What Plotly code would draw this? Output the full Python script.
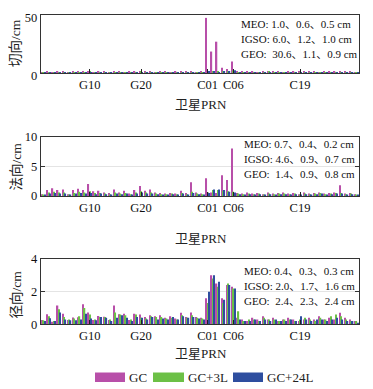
import plotly.graph_objects as go
from plotly.subplots import make_subplots

# the page body adds an 8 px offset; the figure is sized so content lands on reference pixels
OFF = 8
W, H = 373 - OFF, 389 - OFF

gps = [f"G{i:02d}" for i in range(1, 33)]
bds = [f"C{i:02d}" for i in range(1, 31)]
prn = gps + bds
tick_labels = ["G10", "G20", "C01", "C06", "C19"]
series_names = ["GC", "GC+3L", "GC+24L"]
colors = ["#B84FA9", "#6CC046", "#2E4E9F"]

# 切向 (along-track)
along_gc = [0.8, 1.2, 0.6, 1.0, 1.4, 0.7, 1.1, 0.9, 1.3, 1.5, 0.8, 1.0, 1.2, 0.6, 0.9, 1.1,
            0.7, 1.3, 1.0, 1.6, 0.9, 1.2, 0.8, 1.0, 1.1, 0.7, 1.4, 0.9, 1.0, 1.2, 0.8, 1.1,
            47.5, 18.5, 27.0, 4.5, 3.5, 10.0, 1.4, 1.2, 0.9, 1.3, 0.8, 1.0, 1.5, 0.9, 1.1,
            0.8, 1.0, 1.2, 1.3, 1.0, 0.9, 1.1, 0.8, 1.2, 1.0, 1.3, 0.9, 1.1, 1.0, 0.8]
along_3l = [0.5, 0.7, 0.4, 0.6, 0.8, 0.5, 0.6, 0.5, 0.7, 0.9, 0.5, 0.6, 0.7, 0.4, 0.5, 0.6,
            0.4, 0.7, 0.6, 0.9, 0.5, 0.7, 0.5, 0.6, 0.6, 0.4, 0.8, 0.5, 0.6, 0.7, 0.5, 0.6,
            1.2, 1.0, 0.9, 1.8, 1.5, 2.2, 0.8, 0.7, 0.6, 0.8, 0.5, 0.6, 0.9, 0.5, 0.6,
            0.5, 0.6, 0.7, 0.8, 0.6, 0.5, 0.7, 0.5, 0.7, 0.6, 0.8, 0.5, 0.7, 0.6, 0.5]
along_24l = [0.4, 0.6, 0.3, 0.5, 0.7, 0.4, 0.5, 0.4, 0.6, 0.8, 0.4, 0.5, 0.6, 0.3, 0.4, 0.5,
             0.3, 0.6, 0.5, 0.8, 0.4, 0.6, 0.4, 0.5, 0.5, 0.3, 0.7, 0.4, 0.5, 0.6, 0.4, 0.5,
             1.0, 0.9, 0.8, 1.6, 1.4, 2.4, 0.7, 0.6, 0.5, 0.7, 0.4, 0.5, 0.8, 0.4, 0.5,
             0.4, 0.5, 0.6, 0.7, 0.5, 0.4, 0.6, 0.4, 0.6, 0.5, 0.7, 0.4, 0.6, 0.5, 0.4]

# 法向 (cross-track)
cross_gc = [0.3, 1.0, 1.3, 1.0, 1.1, 0.3, 1.0, 1.2, 1.0, 2.0, 0.8, 0.9, 0.6, 0.5, 1.1, 0.6,
            0.9, 0.4, 1.0, 1.7, 0.9, 1.1, 0.6, 0.5, 0.4, 0.5, 0.4, 0.9, 0.5, 2.3, 0.6, 0.4,
            3.0, 0.6, 0.5, 3.5, 2.7, 8.0, 0.5, 0.4, 0.6, 0.4, 0.5, 0.3, 0.6, 0.4, 0.5,
            0.6, 0.4, 0.5, 0.3, 0.6, 0.4, 0.5, 0.6, 0.4, 0.5, 0.6, 1.8, 0.4, 0.5, 0.3]
cross_3l = [0.2, 0.6, 0.7, 0.6, 0.6, 0.2, 0.5, 0.7, 0.6, 0.8, 0.5, 0.5, 0.4, 0.3, 0.6, 0.4,
            0.5, 0.3, 0.6, 0.8, 0.6, 0.6, 0.4, 0.3, 0.3, 0.4, 0.3, 0.5, 0.3, 0.7, 0.4, 0.3,
            0.6, 1.0, 1.0, 0.9, 0.8, 0.7, 0.4, 0.3, 0.4, 0.3, 0.4, 0.2, 0.4, 0.3, 0.4,
            0.4, 0.3, 0.4, 0.2, 0.4, 0.3, 0.4, 0.5, 0.3, 0.4, 0.5, 0.5, 0.3, 0.4, 0.2]
cross_24l = [0.2, 0.4, 0.5, 0.4, 0.4, 0.2, 0.4, 0.5, 0.4, 0.5, 0.3, 0.4, 0.3, 0.2, 0.4, 0.3,
             0.4, 0.2, 0.4, 0.6, 0.4, 0.4, 0.3, 0.2, 0.2, 0.3, 0.2, 0.4, 0.2, 0.5, 0.3, 0.2,
             0.5, 1.1, 1.1, 1.0, 0.7, 0.6, 0.3, 0.2, 0.3, 0.2, 0.3, 0.2, 0.3, 0.2, 0.3,
             0.3, 0.2, 0.3, 0.2, 0.3, 0.2, 0.3, 0.4, 0.2, 0.3, 0.4, 0.4, 0.2, 0.3, 0.2]

# 径向 (radial)
radial_gc = [0.27, 0.62, 0.16, 1.15, 0.64, 0.27, 0.41, 0.43, 1.23, 0.72, 0.27, 0.51, 0.47, 0.27,
             1.15, 0.62, 0.64, 0.27, 0.64, 0.60, 0.45, 0.55, 0.50, 0.55, 0.40, 0.50, 0.35, 0.70,
             0.45, 0.72, 0.45, 0.40,
             1.6, 3.0, 2.5, 1.6, 2.4, 2.3, 0.4, 0.3, 0.2, 0.4, 0.3, 0.5, 0.3, 0.4, 0.2,
             0.3, 0.4, 0.3, 0.2, 0.3, 0.4, 0.3, 0.5, 0.3, 0.4, 0.3, 0.7, 0.4, 0.3, 0.2]
radial_3l = [0.25, 0.50, 0.20, 0.92, 0.45, 0.30, 0.35, 0.50, 1.00, 0.60, 0.30, 0.45, 0.45, 0.30,
             0.72, 0.60, 0.55, 0.30, 0.60, 0.40, 0.35, 0.50, 0.45, 0.45, 0.35, 0.40, 0.30, 0.55,
             0.40, 0.55, 0.40, 0.35,
             1.3, 2.8, 2.3, 1.3, 2.5, 2.2, 0.8, 0.2, 0.3, 0.3, 0.2, 0.4, 0.3, 0.3, 0.2,
             0.3, 0.3, 0.2, 0.3, 0.4, 0.3, 0.2, 0.4, 0.3, 0.5, 0.6, 0.5, 0.3, 0.2, 0.2]
radial_24l = [0.20, 0.37, 0.20, 0.72, 0.30, 0.25, 0.25, 0.30, 0.64, 0.35, 0.25, 0.45, 0.40, 0.20,
              0.40, 0.55, 0.40, 0.20, 0.45, 0.40, 0.30, 0.45, 0.30, 0.35, 0.30, 0.45, 0.30, 0.50,
              0.40, 0.45, 0.35, 0.30,
              2.0, 3.0, 2.6, 1.5, 2.4, 2.2, 0.3, 0.2, 0.2, 0.3, 0.2, 0.3, 0.2, 0.3, 0.2,
              0.2, 0.3, 0.2, 0.5, 0.3, 0.2, 0.3, 0.3, 0.2, 0.3, 0.4, 0.3, 0.2, 0.2, 0.1]

panels = [
    ("切向/cm", [along_gc, along_3l, along_24l], [0, 50], [0, 50],
     ["MEO: 1.0、0.6、0.5 cm", "IGSO: 6.0、1.2、1.0 cm", "GEO:  30.6、1.1、0.9 cm"]),
    ("法向/cm", [cross_gc, cross_3l, cross_24l], [0, 10], [0, 5, 10],
     ["MEO: 0.7、0.4、0.2 cm", "IGSO: 4.6、0.9、0.7 cm", "GEO:  1.4、0.9、0.8 cm"]),
    ("径向/cm", [radial_gc, radial_3l, radial_24l], [0, 4], [0, 2, 4],
     ["MEO: 0.4、0.3、0.3 cm", "IGSO: 2.0、1.7、1.6 cm", "GEO:  2.4、2.3、2.4 cm"]),
]

# pixel layout helpers (layout only): reference-pixel -> paper fraction
def PX(x):
    return (x - OFF) / W

def PY(y):
    return 1 - (y - OFF) / H

x_dom = [PX(41), PX(359)]
y_px = [(15, 73), (136.5, 196), (259, 324.3)]
label_shift = [3, 0, 0]
ytitle_y = [43, 166.5, 294.5]
xtitle_y = [104, 238.5, 353.5]
text_pos = [(239, [24, 39, 53.5]), (242, [144, 159, 174]), (242, [270.5, 285.5, 300.5])]

FONT = "Liberation Serif, 'Times New Roman', 'Noto Sans CJK SC', serif"

fig = make_subplots(rows=3, cols=1)
annotations = []
for r, (ytitle, vals, yr, ytv, texts) in enumerate(panels, start=1):
    for name, v, c in zip(series_names, vals, colors):
        fig.add_trace(go.Bar(x=prn, y=v, name=name, marker=dict(color=c, line=dict(width=0)),
                             showlegend=False), row=r, col=1)
    top, bot = y_px[r - 1]
    ax = "" if r == 1 else str(r)
    fig.update_layout({
        f"xaxis{ax}": dict(domain=x_dom, type="category", categoryorder="array",
                           categoryarray=prn, tickmode="array", tickvals=tick_labels,
                           ticktext=tick_labels, ticks="inside", ticklen=4, tickcolor="#222",
                           showline=True, linecolor="#333", linewidth=1.3, mirror=True,
                           showgrid=False, automargin=False, ticklabeloverflow="allow",
                           tickfont=dict(family=FONT, size=12.5, color="#111"),
                           anchor=f"y{ax}"),
        f"yaxis{ax}": dict(domain=[PY(bot), PY(top)], range=yr, tickmode="array", tickvals=ytv,
                           ticks="inside", ticklen=4, tickcolor="#333",
                           showline=True, linecolor="#333", linewidth=1.3, mirror="ticks",
                           showgrid=True, gridcolor="#e4e4e4", gridwidth=1, zeroline=False,
                           automargin=False, ticklabeloverflow="allow",
                           ticklabelshift=label_shift[r - 1],
                           tickfont=dict(family=FONT, size=12.5, color="#111"),
                           anchor=f"x{ax}"),
    })
    annotations.append(dict(text=ytitle, x=PX(16), y=PY(ytitle_y[r - 1]), xref="paper", yref="paper",
                            textangle=-90, showarrow=False, xanchor="center", yanchor="middle",
                            font=dict(family=FONT, size=13.5, color="#222")))
    annotations.append(dict(text="卫星PRN", x=PX(201), y=PY(xtitle_y[r - 1]), xref="paper", yref="paper",
                            showarrow=False, xanchor="center", yanchor="middle",
                            font=dict(family=FONT, size=13, color="#222")))
    tx, tys = text_pos[r - 1]
    for t, ty in zip(texts, tys):
        annotations.append(dict(text=t, x=PX(tx), y=PY(ty), xref="paper", yref="paper",
                                showarrow=False, xanchor="left", yanchor="middle",
                                font=dict(family=FONT, size=11, color="#111")))

# legend (custom swatches)
shapes = []
leg = [(95, 125, 127), (153, 184, 186), (233, 263, 265)]
for (x0, x1, xt), name, c in zip(leg, series_names, colors):
    shapes.append(dict(type="rect", xref="paper", yref="paper", x0=PX(x0), x1=PX(x1),
                       y0=PY(382), y1=PY(372.5), fillcolor=c, line=dict(width=0)))
    annotations.append(dict(text=name, x=PX(xt), y=PY(377), xref="paper", yref="paper",
                            showarrow=False, xanchor="left", yanchor="middle",
                            font=dict(family=FONT, size=13, color="#222")))

fig.update_layout(width=W, height=H, margin=dict(l=0, r=0, t=0, b=0, pad=0, autoexpand=False),
                  paper_bgcolor="white", plot_bgcolor="white", barmode="group",
                  bargap=0.22, bargroupgap=0, showlegend=False,
                  annotations=annotations, shapes=shapes)

fig.write_html("out.html")
